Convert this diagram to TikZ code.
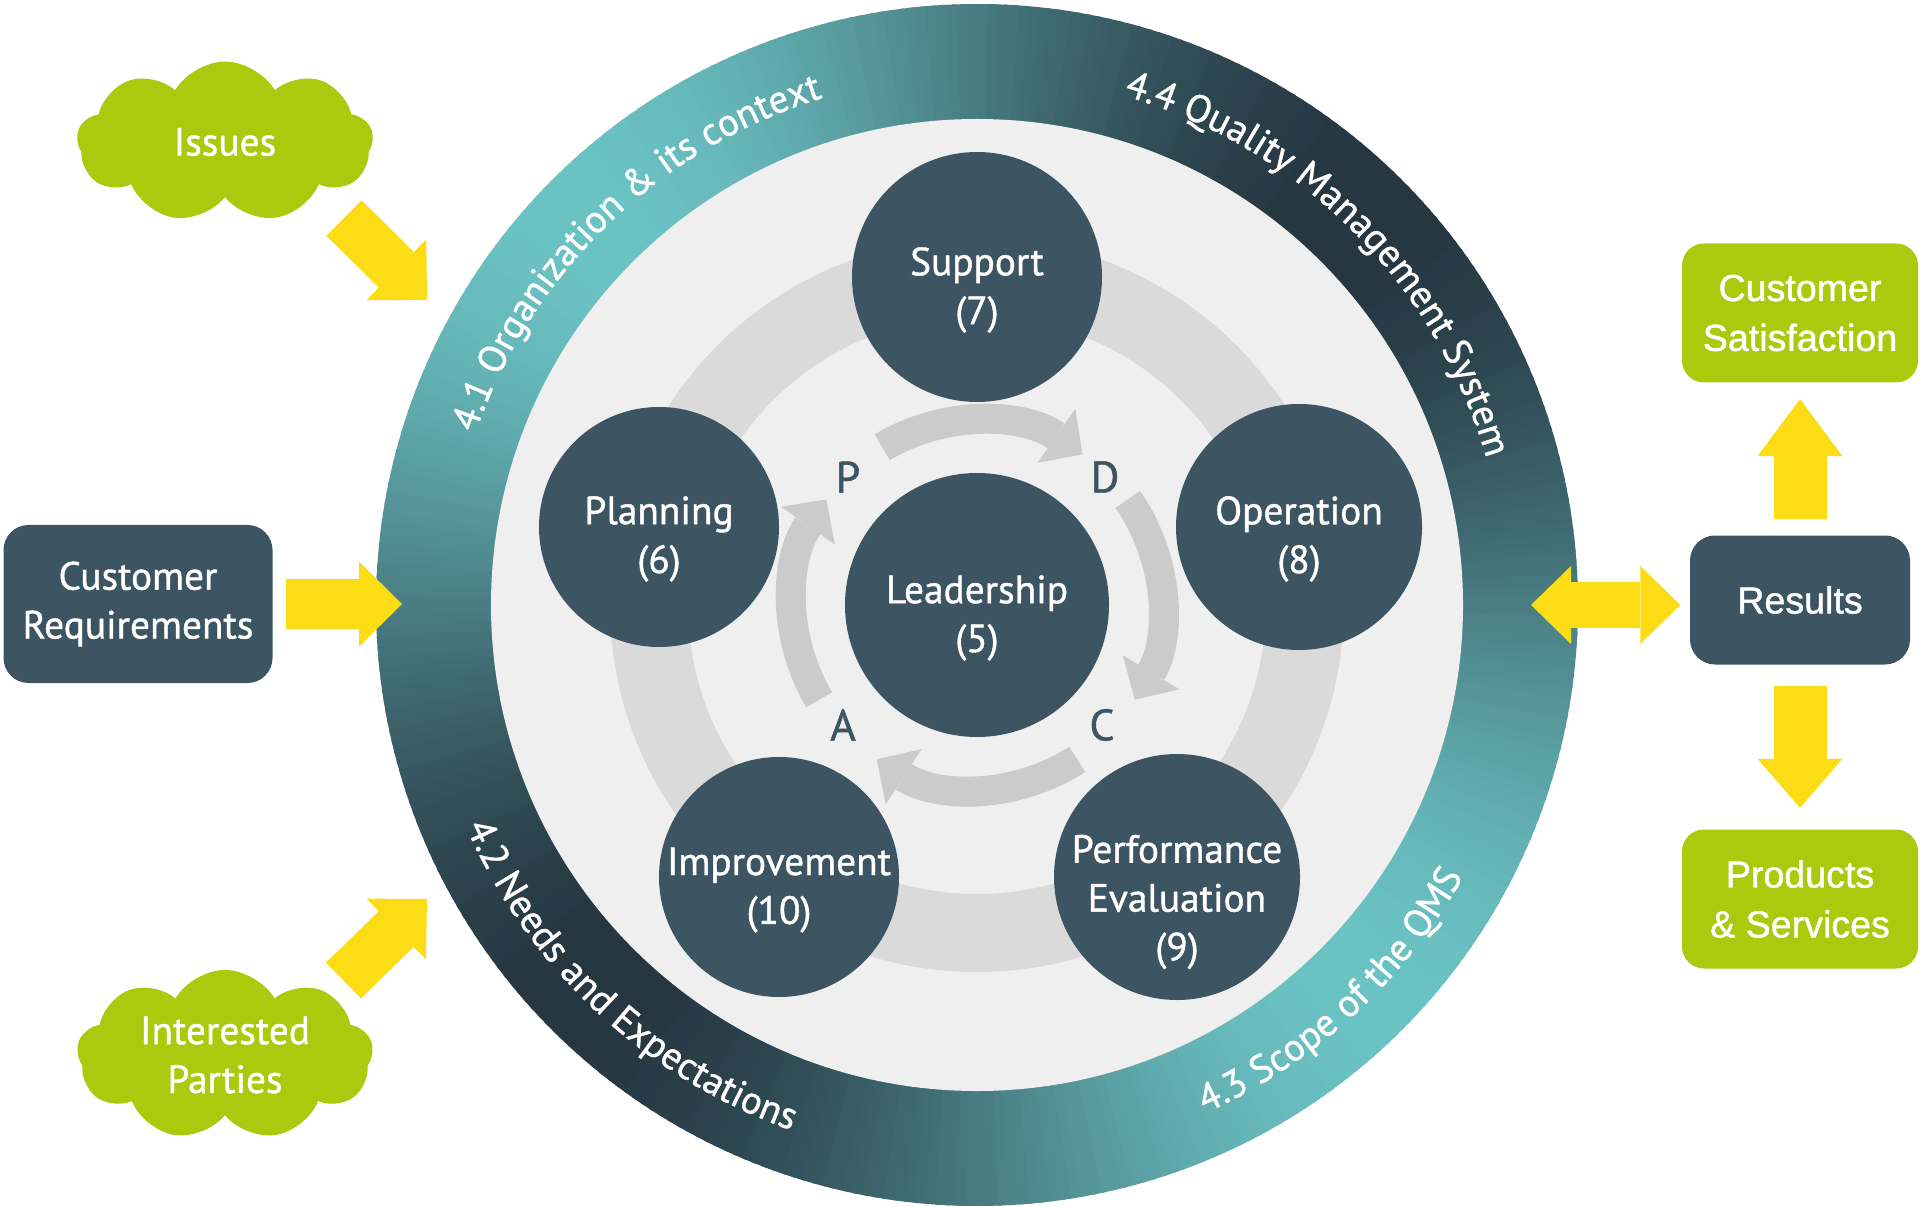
\documentclass[tikz,border=0pt]{standalone}
\usepackage{fontspec}
\setmainfont{PT Sans}[FakeBold=1]
\newfontfamily\boxfont{Liberation Sans}[FakeBold=1.2]
\usetikzlibrary{arrows.meta,shapes.symbols,decorations.text,calc}
\definecolor{slate}{HTML}{3D5563}
\definecolor{leaf}{HTML}{ABC90D}
\definecolor{sun}{HTML}{FCDC14}
\definecolor{ringlight}{HTML}{6CC3C4}
\definecolor{ringdark}{HTML}{263742}
\definecolor{qmsdisc}{HTML}{EFEFEF}
\definecolor{qmsband}{HTML}{DADADA}
\definecolor{cyclegray}{HTML}{CBCBCB}
\newcommand\ringfont{\fontsize{11}{13}\selectfont}

\begin{document}
\begin{tikzpicture}[line join=round,
  txt/.style={text=white, align=center, font=\fontsize{11.2}{13.9}\selectfont},
  clause/.style n args={3}{circle, fill=slate, inner sep=0pt, minimum size=#1,
    label={[txt, yshift=#2]center:#3}},
  phase/.style={text=slate, font=\fontsize{12.5}{14}\selectfont},
  darkbox/.style={rounded corners=0.25cm, fill=slate, inner sep=0pt, txt},
  greenbox/.style={rounded corners=0.22cm, fill=leaf, inner sep=0pt, text=white, align=center,
    font=\boxfont\fontsize{10.7}{14.2}\selectfont, minimum width=2.36cm, minimum height=1.39cm},
  puff/.style={cloud, cloud puffs=9, cloud puff arc=120, aspect=1.84, fill=leaf, inner sep=0pt,
    minimum width=2.96cm, minimum height=1.61cm, txt},
  yarrow/.style={draw=sun, line width=0.5cm, -{Triangle[width=0.85cm,length=#1,line width=0pt]}},
  yarrow/.default=0.43cm,
  ydouble/.style={draw=sun, line width=0.46cm,
    {Triangle[width=0.78cm,length=0.4cm,line width=0pt]}-{Triangle[width=0.78cm,length=0.4cm,line width=0pt]}},
  cyc/.style={draw=cyclegray, line width=0.3cm, -{Triangle[width=0.66cm,length=0.32cm,line width=0pt]}},
  ringtext/.style={decorate, decoration={text along path, text align=center, text color=white,
    text={|\ringfont|#1}}}]
\fill[white] (0,0) rectangle (19.2,12.06);
\useasboundingbox (0,0) rectangle (19.2,12.06);
\coordinate (ctr) at (9.77,6.01);

% outer ring
\foreach \a in {0,1,...,359}{
  \pgfmathtruncatemacro\t{50-50*cos(2*(\a-45))}
  \fill[ringlight!\t!ringdark] (ctr) -- ($(ctr)+(\a:6.01)$) arc (\a:\a+1.4:6.01) -- cycle;
}
\path[ringtext={4.1 Organization {\&} its context}] ($(ctr)+(174:5.3)$) arc (174:94:5.3);
\path[ringtext={4.4 Quality Management System}] ($(ctr)+(85:5.3)$) arc (85:5:5.3);
\path[ringtext={4.3 Scope of the QMS}] ($(ctr)+(-87.5:5.57)$) arc (-87.5:-7.5:5.57);
\path[ringtext={4.2 Needs and Expectations}] ($(ctr)+(187:5.57)$) arc (187:267:5.57);
\fill[qmsdisc] (ctr) circle (4.86);
\draw[qmsband, line width=0.78cm] (ctr) circle (3.28);

% PDCA
\foreach \a in {88,2,-90,178}
  \draw[cyc] ($(ctr)+(\a+33:1.84)$) arc (\a+33:\a-33:1.84);
\node[phase] (p) at (8.48,7.29) {P};
\node[phase] (d) at (11.05,7.29) {D};
\node[phase] (c) at (11.02,4.81) {C};
\node[phase] (a) at (8.43,4.81) {A};

% clauses
\node[clause={2.50cm}{-0.13cm}{Support\\(7)}] (sup) at (9.77,9.29) {};
\node[clause={2.40cm}{-0.12cm}{Planning\\(6)}] (plan) at (6.59,6.79) {};
\node[clause={2.46cm}{-0.12cm}{Operation\\(8)}] (oper) at (12.99,6.79) {};
\node[clause={2.64cm}{-0.13cm}{Leadership\\(5)}] (lead) at (ctr) {};
\node[clause={2.40cm}{-0.13cm}{Improvement\\(10)}] (impr) at (7.79,3.29) {};
\node[clause={2.46cm}{-0.25cm}{Performance\\Evaluation\\(9)}] (perf) at (11.77,3.29) {};

% inputs
\node[puff] (issues) at (2.25,10.64) {Issues};
\node[puff] (parties) at (2.25,1.51) {Interested\\Parties};
\node[darkbox, minimum width=2.69cm, minimum height=1.58cm] (creq) at (1.38,6.02) {Customer\\Requirements};
\coordinate (iss-out) at (3.44,9.88);
\coordinate (ring-nw) at (4.27,9.06);
\coordinate (par-out) at (3.435,2.255);
\coordinate (ring-sw) at (4.27,3.07);
\coordinate (ring-w) at (4.02,6.02);
\draw[yarrow] (iss-out) -- (ring-nw);
\draw[yarrow] (par-out) -- (ring-sw);
\draw[yarrow, shorten <=0.13cm] (creq) -- (ring-w);

% outputs
\node[darkbox, font=\boxfont\fontsize{10.7}{14.2}\selectfont, minimum width=2.2cm, minimum height=1.29cm] (results) at (18,6.06) {Results};
\node[greenbox] (csat) at (18,8.93) {Customer\\Satisfaction};
\node[greenbox] (prod) at (18,3.07) {Products\\\& Services};
\coordinate (ring-e) at (15.31,6.01);
\draw[ydouble, shorten >=0.09cm] (ring-e) -- (ring-e -| results.west);
\draw[yarrow=0.57cm, line width=0.53cm, shorten <=0.16cm, shorten >=0.16cm] (results) -- (csat);
\draw[yarrow=0.49cm, line width=0.53cm, shorten <=0.21cm, shorten >=0.21cm] (results) -- (prod);
\end{tikzpicture}
\end{document}
